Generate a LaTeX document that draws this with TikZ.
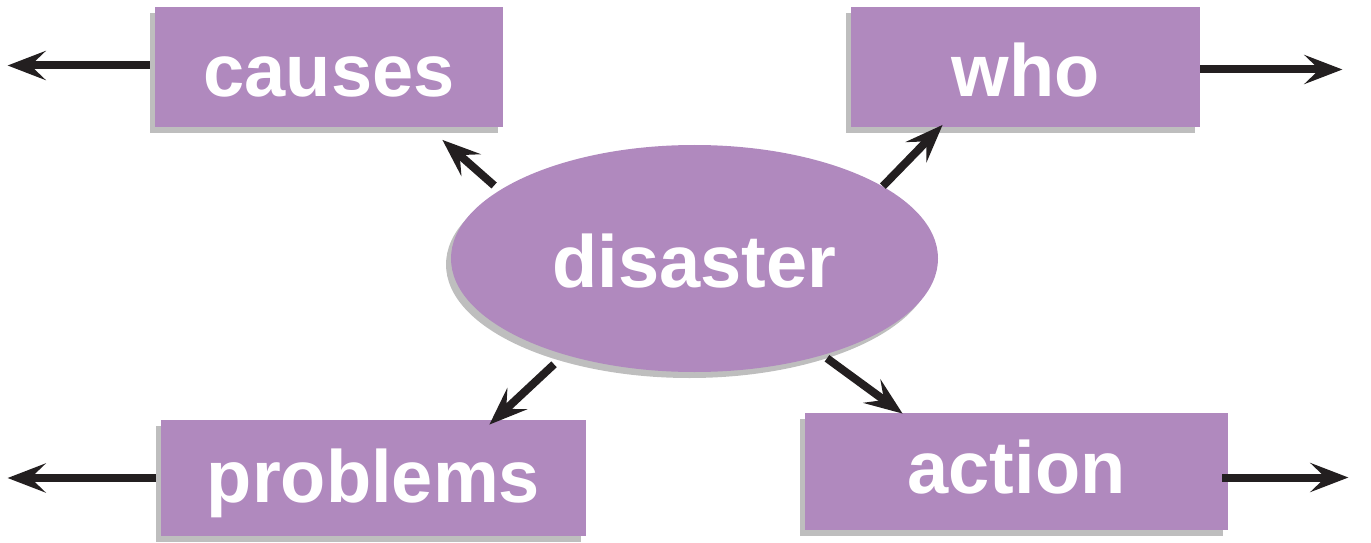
\documentclass[tikz,border=0pt]{standalone}
\usepackage{fontspec}
\setmainfont{Liberation Sans}
\usetikzlibrary{positioning,shadows,arrows.meta,shapes.geometric}

\definecolor{mappurple}{RGB}{176,137,190}
\definecolor{mapshadow}{RGB}{190,190,190}
\definecolor{mapink}{RGB}{35,31,32}

\tikzset{
  flat shadow/.style={drop shadow={shadow xshift=-2.5pt, shadow yshift=-3pt, fill=mapshadow, opacity=1}},
  topic/.style={rectangle, fill=mappurple, flat shadow, inner sep=0pt, minimum height=60pt,
    text=white, font=\fontsize{37}{44}\selectfont\bfseries, text height=29pt, text depth=0pt},
  hub/.style={ellipse, fill=mappurple, flat shadow, inner sep=0pt, minimum width=243.5pt, minimum height=113.5pt,
    text=white, font=\fontsize{37}{44}\selectfont\bfseries, text height=28.5pt, text depth=0pt},
  link/.style={draw=mapink, line width=4pt, -{Stealth[length=19pt, width=14.5pt, inset=7.5pt]}}
}

\begin{document}
\begin{tikzpicture}[x=0.5pt, y=0.5pt]
    % Fix the page to the reference frame
    \useasboundingbox (0,0) rectangle (1371,542);

    % Central topic and the four branches
    \node[hub] (disaster) at (694.5,283.5) {disaster};
    \node[topic, minimum width=174pt] (causes) at (329,474.5) {causes};
    \node[topic, minimum width=174.5pt] (who) at (1025.5,474.5) {who};
    \node[topic, minimum width=212.5pt, minimum height=58pt, text height=24pt] (problems) at (373.5,64) {problems};
    \node[topic, minimum width=211.5pt, minimum height=58.5pt, text height=22pt] (action) at (1016.5,70.5) {action};

    % Free ends of the outer arrows
    \coordinate[left=73.5pt of causes.west] (causes out);
    \coordinate[right=71pt of who.east] (who out);
    \coordinate[left=76.5pt of problems.west] (problems out);
    \coordinate[right=60pt of action.east] (action out);

    % Arrows from the centre to the branches
    \draw[link] ([xshift=-4pt, yshift=1.5pt]disaster.160) -- ([xshift=-30.5pt, yshift=-6pt]causes.south east);
    \draw[link] (disaster.21) -- ([xshift=46pt, yshift=1.5pt]who.south west);
    \draw[link] ([xshift=-6pt, yshift=-4.5pt]disaster.217) -- ([xshift=-48.5pt, yshift=-2.5pt]problems.north east);
    \draw[link] ([xshift=2pt, yshift=-1.5pt]disaster.323) -- ([xshift=49pt, yshift=-0.5pt]action.north west);

    % Arrows leading out of the branches
    \draw[link] ([xshift=-2.5pt, yshift=1pt]causes.west) -- ([yshift=1pt]causes out);
    \draw[link] ([yshift=-1pt]who.east) -- ([yshift=-1pt]who out);
    \draw[link] ([xshift=-2.5pt]problems.west) -- (problems out);
    \draw[link] ([xshift=-3pt, yshift=-3pt]action.east) -- ([yshift=-3pt]action out);
\end{tikzpicture}
\end{document}
